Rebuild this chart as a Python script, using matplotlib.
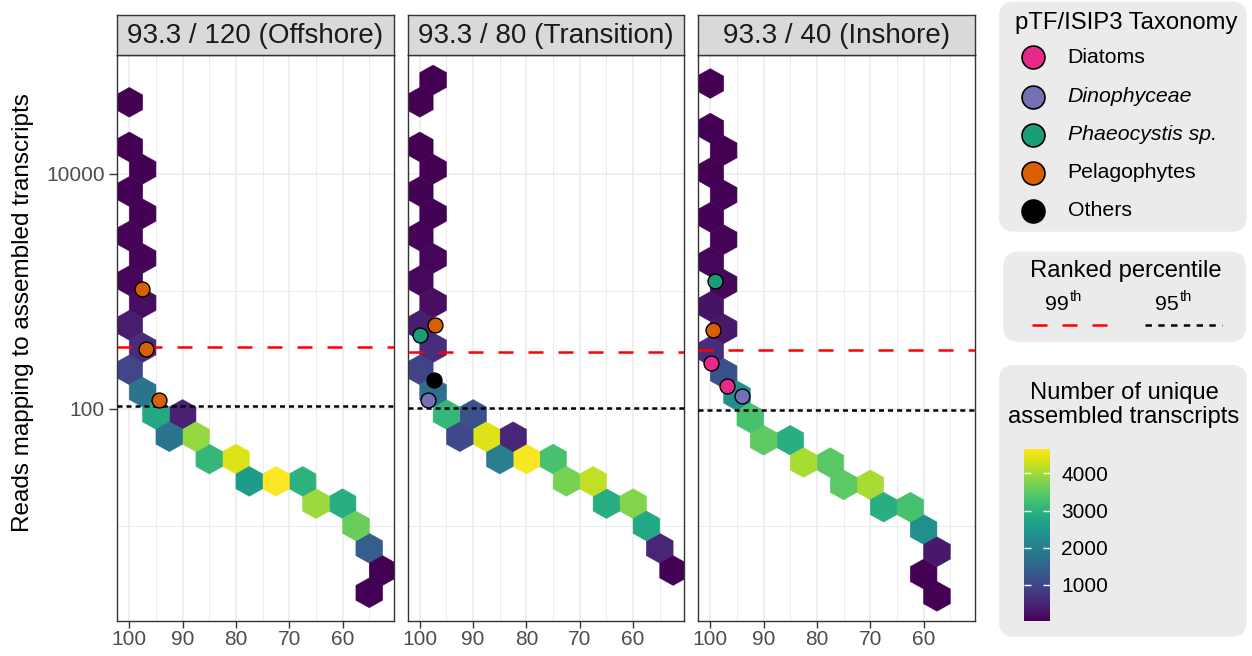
import numpy as np
import matplotlib
matplotlib.use("Agg")
import matplotlib.pyplot as plt
import matplotlib.colors as mcolors
from matplotlib.patches import FancyBboxPatch
from matplotlib.lines import Line2D
from matplotlib.ticker import FixedLocator, FixedFormatter, NullFormatter

plt.rcParams['font.family'] = ['Liberation Sans', 'DejaVu Sans']
plt.rcParams['lines.scale_dashes'] = False

# ---------------- data ----------------
panel_titles = ["93.3 / 120 (Offshore)", "93.3 / 80 (Transition)", "93.3 / 40 (Inshore)"]

# hex-bin centres: ranked percentile, reads, number of unique transcripts
off_pct = [100, 100, 97.5, 100, 97.5, 100, 97.5, 100, 97.5, 100, 97.5, 100, 97.5,
           95, 90, 92.5, 87.5, 85, 80, 77.5, 72.5, 67.5, 65, 60, 57.5, 55, 52.5, 55]
off_reads = [40738, 16982, 10965, 7079, 4571, 2951, 1905, 1230, 794, 513, 331, 214, 138,
             89.1, 89.1, 57.5, 57.5, 37.2, 37.2, 24.0, 24.0, 24.0, 15.5, 15.5, 10.0, 6.46, 4.17, 2.69]
off_count = [30, 40, 50, 45, 60, 70, 80, 120, 180, 400, 600, 1000, 1800,
             2800, 450, 1800, 3900, 3100, 4400, 2550, 4650, 3000, 3950, 2950, 3600, 1400, 40, 35]

tra_pct = [97.5, 100, 100, 97.5, 100, 97.5, 100, 97.5, 100, 97.5, 100, 97.5, 100, 97.5,
           95, 90, 92.5, 87.5, 82.5, 85, 80, 75, 72.5, 67.5, 65, 60, 57.5, 55, 52.5]
tra_reads = [63096, 40738, 16982, 10965, 7079, 4571, 2951, 1905, 1230, 794, 513, 331, 214, 138,
             89.1, 89.1, 57.5, 57.5, 57.5, 37.2, 37.2, 37.2, 24.0, 24.0, 15.5, 15.5, 10.0, 6.46, 4.17]
tra_count = [30, 35, 40, 45, 55, 60, 75, 90, 130, 200, 420, 620, 950, 1700,
             3100, 1180, 1050, 4400, 500, 2000, 4600, 3300, 3700, 4200, 2900, 3800, 2800, 500, 40]

ins_pct = [100, 100, 97.5, 100, 97.5, 100, 97.5, 100, 97.5, 100, 97.5, 100, 97.5,
           95, 92.5, 90, 85, 82.5, 77.5, 75, 70, 67.5, 62.5, 60, 57.5, 60, 57.5]
ins_reads = [58884, 24547, 15849, 10233, 6607, 4266, 2754, 1778, 1148, 741, 479, 309, 199.5,
             128.8, 83.2, 53.7, 53.7, 34.7, 34.7, 22.4, 22.4, 14.45, 14.45, 9.33, 6.03, 3.89, 2.51]
ins_count = [30, 35, 40, 45, 50, 60, 70, 90, 110, 250, 330, 620, 1180,
             2330, 3300, 3500, 2950, 4050, 3450, 3500, 4050, 2950, 3300, 2330, 320, 40, 35]

# ranked-percentile thresholds (reads)
p99_reads = [334, 301, 313]
p95_reads = [104.6, 101.5, 97.5]

# pTF/ISIP3 transcripts
tax_panel = [0, 0, 0, 1, 1, 1, 1, 2, 2, 2, 2, 2]
tax_group = ["Pelagophytes", "Pelagophytes", "Pelagophytes",
             "Pelagophytes", "Phaeocystis sp.", "Others", "Dinophyceae",
             "Phaeocystis sp.", "Pelagophytes", "Diatoms", "Diatoms", "Dinophyceae"]
tax_pct = [97.6, 96.9, 94.4, 97.2, 99.9, 97.3, 98.4, 99.2, 99.5, 99.9, 96.9, 94.1]
tax_reads = [1045, 320, 118, 513, 421, 176, 119, 1216, 464, 245, 157, 127]

tax_names = ["Diatoms", "Dinophyceae", "Phaeocystis sp.", "Pelagophytes", "Others"]
tax_colors = ["#e7298a", "#7570b3", "#1b9e77", "#d95f02", "#000000"]
tax_italic = [False, True, True, False, False]

x_ticks = [100, 90, 80, 70, 60]
x_minor = [95, 85, 75, 65, 55]
y_ticks = [100, 10000]
y_minor = [10, 1000]
cbar_ticks = [1000, 2000, 3000, 4000]

panels = [(off_pct, off_reads, off_count),
          (tra_pct, tra_reads, tra_count),
          (ins_pct, ins_reads, ins_count)]
# hex grid origin (log10 reads) for each facet
grid_y0 = [0.05, 0.05, 0.21]

# ---------------- layout ----------------
W, H = 1252, 656
fig = plt.figure(figsize=(W / 100, H / 100), dpi=100)


def fx(px):
    return px / W


def fy(py):
    return 1 - py / H


all_counts = off_count + tra_count + ins_count
norm = mcolors.Normalize(vmin=min(all_counts), vmax=max(all_counts))
cmap = plt.get_cmap("viridis")

ax_left = [117.3, 407.8, 698.3]
ax_w = 276.5
ax_top, ax_bot = 55.0, 621.0
strip_top = 14.5

axes = []
hb = None
for i, (pct, reads, cnt) in enumerate(panels):
    ax = fig.add_axes([fx(ax_left[i]), fy(ax_bot), ax_w / W, (ax_bot - ax_top) / H])
    axes.append(ax)
    y0 = grid_y0[i]
    hb = ax.hexbin(pct, reads, C=cnt, reduce_C_function=np.sum,
                   gridsize=(14, 14), extent=(40, 110, y0, y0 + 0.38 * 14),
                   yscale='log', cmap=cmap, norm=norm,
                   edgecolors='face', linewidths=0.4, zorder=2)
    ax.set_yscale('log')
    ax.set_xlim(102.25, 50.4)
    ax.set_ylim(10 ** 0.19, 10 ** 5.013)

    ax.axhline(p99_reads[i], color='#ff0000', lw=1.8, dashes=(10.8, 10.8), zorder=3)
    ax.axhline(p95_reads[i], color='black', lw=1.8, dashes=(3.6, 2.9), zorder=3)

    for g, c in zip(tax_names, tax_colors):
        xs = [p for p, pan, gg in zip(tax_pct, tax_panel, tax_group) if pan == i and gg == g]
        ys = [r for r, pan, gg in zip(tax_reads, tax_panel, tax_group) if pan == i and gg == g]
        if xs:
            ax.scatter(xs, ys, s=115, c=c, edgecolors='black', linewidths=1.0, zorder=4)

    ax.xaxis.set_major_locator(FixedLocator(x_ticks))
    ax.xaxis.set_minor_locator(FixedLocator(x_minor))
    ax.set_xticklabels([str(t) for t in x_ticks])
    ax.yaxis.set_major_locator(FixedLocator(y_ticks))
    ax.yaxis.set_minor_locator(FixedLocator(y_minor))
    ax.yaxis.set_major_formatter(FixedFormatter([str(t) for t in y_ticks]))
    ax.yaxis.set_minor_formatter(NullFormatter())

    ax.grid(which='major', color='#ebebeb', lw=1.1, zorder=0)
    ax.grid(which='minor', color='#ebebeb', lw=0.7, zorder=0)
    ax.set_axisbelow(True)
    ax.tick_params(which='minor', length=0)
    ax.tick_params(axis='x', which='major', length=4.7, width=1.0, color='#333333',
                   labelsize=15, labelcolor='#4d4d4d', pad=1.5)
    if i == 0:
        ax.tick_params(axis='y', which='major', length=5.5, width=1.0, color='#333333',
                       labelsize=15, labelcolor='#4d4d4d', pad=3.5)
    else:
        ax.tick_params(axis='y', which='major', left=False, labelleft=False)
    for sp in ax.spines.values():
        sp.set_color('#333333')
        sp.set_linewidth(1.0)

    # facet strip
    sax = fig.add_axes([fx(ax_left[i]), fy(ax_top), ax_w / W, (ax_top - strip_top) / H])
    sax.set_facecolor('#d9d9d9')
    sax.set_xticks([])
    sax.set_yticks([])
    for sp in sax.spines.values():
        sp.set_color('#333333')
        sp.set_linewidth(1.0)
    sax.text(0.5, 0.47, panel_titles[i], ha='center', va='center', fontsize=20,
             color='#1a1a1a', transform=sax.transAxes)

fig.text(fx(23), fy(313), "Reads mapping to assembled transcripts", rotation=90,
         ha='center', va='center', fontsize=17.5, color='black')

# ---------------- legends ----------------
def box(x0, y0, x1, y1):
    p = FancyBboxPatch((fx(x0), fy(y1)), fx(x1) - fx(x0), fy(y0) - fy(y1),
                       boxstyle="round,pad=0,rounding_size=0.012",
                       transform=fig.transFigure, facecolor='#ebebeb', edgecolor='none',
                       mutation_aspect=W / H, zorder=-5)
    fig.patches.append(p)


# taxonomy legend
box(999, 1.7, 1246.7, 231.7)
fig.text(fx(1126.7), fy(22.7), "pTF/ISIP3 Taxonomy", ha='center', va='center', fontsize=17.2)
leg_y = [57.3, 96.7, 134.5, 172.7, 210.7]
for yy, name, col, it in zip(leg_y, tax_names, tax_colors, tax_italic):
    fig.add_artist(Line2D([fx(1033.3)], [fy(yy)], marker='o', markersize=16.5,
                          markerfacecolor=col, markeredgecolor='black', markeredgewidth=1.2,
                          linestyle='none', transform=fig.transFigure))
    fig.text(fx(1067.7), fy(yy), name, ha='left', va='center', fontsize=15.3,
             style='italic' if it else 'normal')

# ranked percentile legend
box(1003.3, 251.7, 1245.7, 341.7)
fig.text(fx(1125.5), fy(270.7), "Ranked percentile", ha='center', va='center', fontsize=17.1)
fig.text(fx(1069), fy(304), "99", ha='right', va='center', fontsize=15.3)
fig.text(fx(1069.5), fy(297), "th", ha='left', va='center', fontsize=10.5)
fig.text(fx(1179), fy(304), "95", ha='right', va='center', fontsize=15.3)
fig.text(fx(1179.5), fy(297), "th", ha='left', va='center', fontsize=10.5)
fig.add_artist(Line2D([fx(1031.7), fx(1106.7)], [fy(325), fy(325)], color='#ff0000', lw=1.8,
                      dashes=(10.8, 10.8), transform=fig.transFigure))
fig.add_artist(Line2D([fx(1145), fx(1222)], [fy(325), fy(325)], color='black', lw=1.8,
                      dashes=(4.6, 4.6), transform=fig.transFigure))

# colour bar legend
box(999, 365, 1246.7, 636.7)
fig.text(fx(1124), fy(405), "Number of unique\nassembled transcripts", ha='center',
         va='center', fontsize=17.1, linespacing=1.1)
cax = fig.add_axes([fx(1024.3), fy(620.7), (1050 - 1024.3) / W, (620.7 - 449.3) / H])
cax.set_zorder(5)
cb = fig.colorbar(hb, cax=cax, ticks=cbar_ticks)
cb.outline.set_visible(False)
cax.tick_params(axis='y', direction='in', length=5, width=1.0, color='white',
                left=True, right=True, labelleft=False, labelright=True,
                labelsize=15, labelcolor='black', pad=8)
cax.minorticks_off()

fig.savefig("out.png", dpi=100)
